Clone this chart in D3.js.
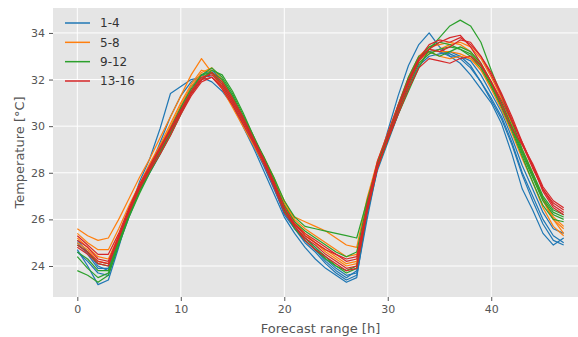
<!DOCTYPE html>
<html>
<head>
<meta charset="utf-8">
<script src="https://cdn.jsdelivr.net/npm/d3@7"></script>
<style>
  html, body { margin: 0; padding: 0; background: #fff; }
  svg { display: block; font-family: "DejaVu Sans", sans-serif; }
</style>
</head>
<body>
<svg id="chart" width="578" height="337"></svg>
<script>
// Forecast hours 0..47
const hours = d3.range(0, 48);

// Ensemble members, grouped by four
const groupLabels = ["1-4", "5-8", "9-12", "13-16"];
const groupColors = ["#1f77b4", "#ff7f0e", "#2ca02c", "#d62728"];

const m1  = [25.0,24.5,23.9,23.9,25.0,26.2,27.3,28.2,29.3,30.4,31.3,31.9,32.2,32.1,31.7,31.0,30.1,29.2,28.3,27.3,26.3,25.6,25.0,24.6,24.1,23.7,23.4,23.6,26.0,28.2,29.8,31.3,32.6,33.5,34.0,33.4,33.0,32.7,32.2,31.6,31.0,30.1,28.8,27.3,26.4,25.4,24.9,25.2];
const m2  = [24.7,24.0,23.2,23.4,24.8,26.3,27.6,28.6,29.9,31.4,31.7,32.0,32.1,31.9,31.5,30.9,30.0,29.1,28.1,27.1,26.1,25.4,24.8,24.3,23.9,23.6,23.3,23.5,26.3,28.4,29.6,30.8,32.0,32.9,33.3,33.2,33.0,33.0,32.6,31.9,31.1,30.3,29.2,27.9,26.8,25.8,25.1,24.9];
const m3  = [24.6,24.2,23.7,23.6,24.9,26.1,27.2,28.0,28.8,29.7,30.6,31.5,32.0,32.3,31.9,31.2,30.4,29.5,28.6,27.5,26.5,25.7,25.2,24.8,24.3,23.9,23.6,23.7,26.2,28.1,29.3,30.5,31.6,32.6,33.0,33.1,33.2,33.0,32.8,32.2,31.4,30.6,29.5,28.3,27.3,26.3,25.6,25.4];
const m4  = [25.1,24.6,24.0,23.8,25.1,26.4,27.4,28.3,29.1,29.9,30.8,31.7,32.2,32.4,32.0,31.3,30.3,29.3,28.4,27.4,26.2,25.6,25.1,24.7,24.2,23.8,23.5,23.8,26.4,28.3,29.5,30.7,31.9,32.8,33.2,33.3,33.1,32.9,32.5,31.9,31.2,30.4,29.3,28.0,27.0,26.0,25.3,25.0];
const m5  = [25.6,25.3,25.1,25.2,26.0,26.9,27.8,28.6,29.5,30.4,31.3,32.2,32.9,32.3,31.6,30.8,30.0,29.2,28.4,27.6,26.6,26.1,25.9,25.7,25.5,25.2,24.9,24.8,26.9,28.5,29.7,30.9,32.1,33.0,33.4,33.5,33.6,33.5,33.2,32.6,31.8,31.0,30.0,28.9,27.9,26.8,26.0,25.6];
const m6  = [25.4,25.0,24.7,24.7,25.6,26.6,27.5,28.4,29.2,30.1,31.0,31.8,32.4,32.3,31.7,31.0,30.2,29.4,28.6,27.7,26.8,26.0,25.6,25.3,25.0,24.7,24.4,24.5,26.7,28.4,29.5,30.6,31.8,32.7,33.1,33.3,33.5,33.6,33.4,32.9,32.1,31.2,30.1,29.0,28.0,26.9,26.1,25.7];
const m7  = [25.2,24.8,24.4,24.3,25.3,26.4,27.4,28.3,29.1,30.0,30.9,31.7,32.3,32.5,32.0,31.2,30.3,29.4,28.5,27.5,26.5,25.9,25.4,25.0,24.7,24.4,24.1,24.2,26.5,28.2,29.4,30.6,31.9,32.9,33.3,33.2,33.2,33.1,32.9,32.4,31.6,30.7,29.7,28.6,27.6,26.5,25.7,25.3];
const m8  = [25.0,24.7,24.2,24.1,25.2,26.3,27.3,28.2,29.0,29.8,30.7,31.5,32.1,32.3,31.9,31.2,30.4,29.5,28.7,27.8,26.7,25.9,25.3,25.0,24.6,24.3,24.0,24.1,26.6,28.4,29.6,30.8,31.9,32.8,33.2,33.0,32.9,33.0,32.9,32.5,31.7,30.9,29.9,28.9,27.9,26.9,26.0,25.4];
const m9  = [23.8,23.6,23.3,23.6,24.9,26.1,27.1,28.0,28.8,29.6,30.5,31.4,32.0,32.4,32.2,31.5,30.6,29.6,28.6,27.5,26.4,25.7,25.2,24.8,24.4,24.0,23.7,23.9,26.3,28.2,29.4,30.6,31.7,32.7,33.1,33.3,33.4,33.3,33.0,32.5,31.7,30.8,29.8,28.7,27.6,26.6,26.0,25.9];
const m10 = [24.9,24.6,24.1,24.0,25.1,26.3,27.3,28.2,29.0,29.9,30.8,31.6,32.2,32.3,31.8,31.1,30.3,29.5,28.7,27.8,26.8,26.1,25.7,25.6,25.5,25.4,25.3,25.2,26.8,28.3,29.4,30.5,31.5,32.5,33.3,33.8,34.3,34.55,34.3,33.6,32.4,31.3,30.2,29.0,28.0,27.0,26.4,26.2];
const m11 = [24.4,23.9,23.5,23.7,25.0,26.2,27.2,28.1,28.9,29.8,30.7,31.5,32.2,32.5,32.1,31.4,30.5,29.6,28.7,27.7,26.6,25.9,25.5,25.2,24.9,24.6,24.4,24.6,26.7,28.4,29.6,30.8,31.9,32.9,33.4,33.6,33.5,33.3,33.1,32.6,31.8,30.9,29.9,28.8,27.8,26.8,26.2,26.0];
const m12 = [24.6,24.3,23.8,23.8,25.0,26.2,27.2,28.1,28.9,29.7,30.6,31.4,32.0,32.3,32.0,31.3,30.4,29.5,28.5,27.5,26.4,25.6,25.1,24.7,24.3,24.0,23.8,24.0,26.5,28.3,29.5,30.9,32.1,33.0,33.2,33.0,33.2,33.4,33.2,32.7,31.9,31.0,30.0,28.9,27.9,26.9,26.3,26.1];
const m13 = [25.3,24.9,24.5,24.5,25.4,26.5,27.5,28.3,29.1,29.9,30.7,31.5,32.1,32.2,31.8,31.1,30.3,29.4,28.5,27.5,26.5,25.8,25.3,25.0,24.7,24.5,24.2,24.3,26.4,28.2,29.5,30.7,31.8,32.8,33.3,33.6,33.8,33.9,33.4,32.7,31.9,30.9,29.9,29.2,28.4,27.4,26.8,26.5];
const m14 = [25.1,24.8,24.3,24.2,25.3,26.4,27.4,28.2,29.0,29.8,30.6,31.4,32.0,32.1,31.6,30.9,30.1,29.3,28.4,27.4,26.3,25.7,25.2,24.9,24.5,24.2,23.9,24.0,26.6,28.5,29.7,30.9,32.0,32.9,33.3,33.2,33.4,33.7,33.6,33.0,32.3,31.4,30.4,29.3,28.3,27.3,26.6,26.3];
const m15 = [24.8,24.5,24.1,24.0,25.2,26.3,27.3,28.1,28.8,29.6,30.5,31.3,31.9,32.1,31.7,31.0,30.2,29.4,28.6,27.6,26.5,25.8,25.4,25.1,24.8,24.5,24.3,24.4,26.5,28.3,29.4,30.5,31.6,32.5,32.9,32.8,32.7,32.9,33.0,32.6,31.9,31.1,30.2,29.3,28.3,27.2,26.5,26.2];
const m16 = [24.9,24.6,24.2,24.1,25.2,26.4,27.4,28.2,29.0,29.8,30.6,31.4,32.0,32.3,31.9,31.2,30.4,29.5,28.6,27.6,26.5,25.7,25.1,24.7,24.4,24.1,23.8,23.9,26.3,28.2,29.5,30.7,31.9,32.9,33.5,33.7,33.6,33.8,33.5,33.0,32.2,31.3,30.3,29.2,28.2,27.3,26.7,26.4];

const members = [m1, m2, m3, m4, m5, m6, m7, m8, m9, m10, m11, m12, m13, m14, m15, m16];

const xTicks = [0, 10, 20, 30, 40];
const yTicks = [24, 26, 28, 30, 32, 34];

const svg = d3.select("#chart");
const plot = { left: 53, right: 588, top: 8, bottom: 297 };

const x = d3.scaleLinear().domain([-2.35, 49.35]).range([plot.left, plot.right]);
const y = d3.scaleLinear().domain([22.67, 35.07]).range([plot.bottom, plot.top]);

svg.append("defs").append("clipPath").attr("id", "clip")
  .append("rect")
  .attr("x", plot.left).attr("y", plot.top)
  .attr("width", plot.right - plot.left).attr("height", plot.bottom - plot.top);

// panel background
svg.append("rect")
  .attr("x", plot.left).attr("y", plot.top)
  .attr("width", plot.right - plot.left).attr("height", plot.bottom - plot.top)
  .attr("fill", "#e5e5e5");

// grid
const grid = svg.append("g");
grid.selectAll("line.gx").data(xTicks).join("line")
  .attr("x1", d => x(d)).attr("x2", d => x(d))
  .attr("y1", plot.top).attr("y2", plot.bottom)
  .attr("stroke", "#ffffff").attr("stroke-width", 1);
grid.selectAll("line.gy").data(yTicks).join("line")
  .attr("y1", d => y(d)).attr("y2", d => y(d))
  .attr("x1", plot.left).attr("x2", plot.right)
  .attr("stroke", "#ffffff").attr("stroke-width", 1);

// axes
const xAxis = svg.append("g")
  .attr("transform", `translate(0,${plot.bottom})`)
  .call(d3.axisBottom(x).tickValues(xTicks).tickFormat(d3.format("d")).tickSize(4).tickPadding(4));
const yAxis = svg.append("g")
  .attr("transform", `translate(${plot.left},0)`)
  .call(d3.axisLeft(y).tickValues(yTicks).tickFormat(d3.format("d")).tickSize(4).tickPadding(4));
[xAxis, yAxis].forEach(g => {
  g.select(".domain").remove();
  g.selectAll(".tick line").attr("stroke", "#555555");
  g.selectAll(".tick text").attr("fill", "#555555")
    .style("font-family", "DejaVu Sans").style("font-size", "11px");
});

// lines
const line = d3.line().x((d, i) => x(hours[i])).y(d => y(d));
svg.append("g").attr("clip-path", "url(#clip)")
  .selectAll("path").data(members).join("path")
  .attr("d", line)
  .attr("fill", "none")
  .attr("stroke", (d, i) => groupColors[Math.floor(i / 4)])
  .attr("stroke-width", 1.2)
  .attr("stroke-linejoin", "round");

// axis titles
svg.append("text")
  .attr("x", (plot.left + plot.right) / 2).attr("y", 333)
  .attr("text-anchor", "middle")
  .attr("fill", "#555555").style("font-size", "13px")
  .text("Forecast range [h]");
svg.append("text")
  .attr("transform", `translate(24,${(plot.top + plot.bottom) / 2}) rotate(-90)`)
  .attr("text-anchor", "middle")
  .attr("fill", "#555555").style("font-size", "13px")
  .text("Temperature [°C]");

// legend
const legend = svg.append("g");
const rowY = d3.scaleLinear().domain([0, 3]).range([23, 81]);
groupLabels.forEach((lab, i) => {
  legend.append("line")
    .attr("x1", 65).attr("x2", 90)
    .attr("y1", rowY(i)).attr("y2", rowY(i))
    .attr("stroke", groupColors[i]).attr("stroke-width", 1.5);
  legend.append("text")
    .attr("x", 100).attr("y", rowY(i)).attr("dy", "0.35em")
    .attr("fill", "#333333").style("font-size", "12px")
    .text(lab);
});
</script>
</body>
</html>
